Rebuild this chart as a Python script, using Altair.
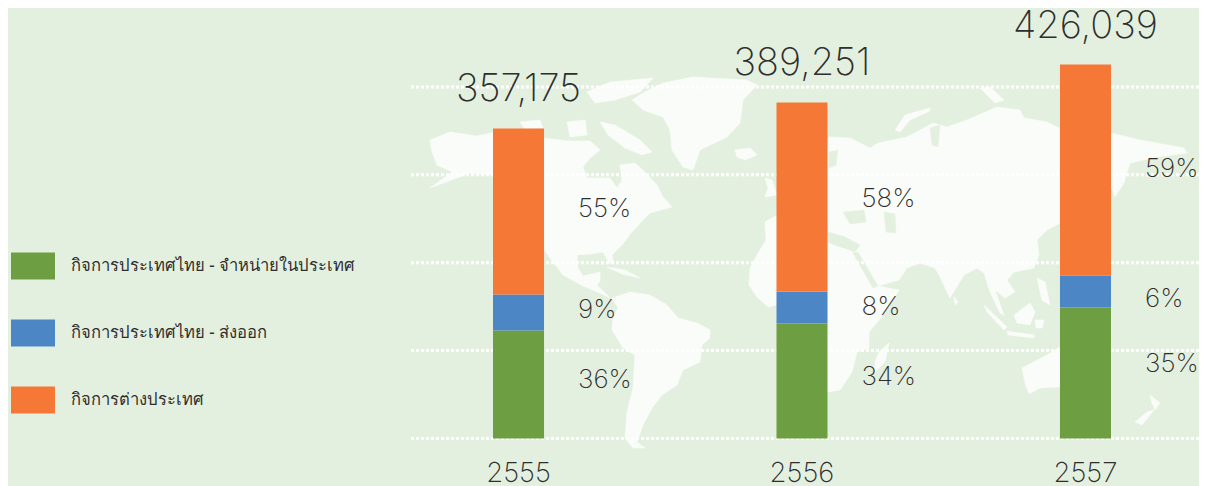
import altair as alt
import pandas as pd

# ---- chart values ----
years = ["2555", "2556", "2557"]
series = ["กิจการประเทศไทย - จำหน่ายในประเทศ", "กิจการประเทศไทย - ส่งออก", "กิจการต่างประเทศ"]
colors = ["#6d9f42", "#4d86c5", "#f67837"]
green_values = [122900, 130900, 149100]
blue_values = [41000, 36400, 36400]
orange_values = [188900, 215100, 240100]
totals = ["357,175", "389,251", "426,039"]
green_pct = ["36%", "34%", "35%"]
blue_pct = ["9%", "8%", "6%"]
orange_pct = ["55%", "58%", "59%"]
green_anchor = [66500, 69900, 84700]
blue_anchor = [146300, 149700, 158800]
orange_anchor = [261200, 272600, 306800]
grid_values = [0, 100000, 200000, 300000, 400000]

# ---- decorative world map outlines (picture units) ----
north_america = [[430,140],[450,132],[477,136],[505,130],[543,138],[567,141],[590,141],[600,150],[590,158],[583,167],[587,178],[610,178],[617,188],[622,180],[620,165],[635,163],[645,172],[657,185],[663,197],[672,207],[650,213],[643,220],[632,232],[622,245],[612,255],[614,263],[609,263],[603,252],[590,254],[577,255],[578,268],[583,276],[600,272],[600,281],[597,285],[610,298],[600,293],[583,286],[563,275],[550,258],[530,230],[510,190],[493,175],[470,173],[457,178],[430,188],[452,172],[437,165],[432,152]]
south_america = [[612,298],[630,292],[650,295],[667,305],[678,318],[697,323],[710,330],[710,338],[702,345],[700,362],[683,370],[677,385],[662,395],[652,408],[643,425],[637,442],[645,448],[633,448],[625,438],[627,412],[633,388],[635,355],[623,348],[612,330],[613,318],[618,308]]
greenland = [[643,93],[663,83],[693,77],[747,80],[757,85],[743,100],[740,123],[727,137],[700,150],[693,170],[683,167],[672,150],[670,130],[663,117],[643,110],[632,100]]
afro_eurasia = [[777,215],[765,222],[766,240],[757,255],[750,268],[749,285],[757,297],[768,307],[777,305],[800,310],[810,392],[828,392],[840,390],[852,372],[857,352],[869,348],[869,332],[885,313],[899,290],[878,286],[899,280],[907,268],[920,263],[935,268],[939,275],[950,298],[955,290],[964,275],[977,268],[984,273],[990,292],[1000,313],[1004,315],[995,290],[1005,298],[1015,292],[1007,280],[1014,272],[1034,268],[1039,255],[1037,240],[1047,230],[1060,223],[1070,210],[1111,187],[1115,197],[1124,183],[1130,163],[1157,157],[1187,153],[1184,148],[1140,140],[1111,133],[1059,128],[1047,122],[1024,118],[1020,110],[997,107],[967,120],[947,127],[933,123],[907,137],[878,143],[870,148],[850,138],[829,137],[815,150],[800,170],[790,195]]
australia = [[1022,368],[1047,355],[1060,347],[1100,347],[1100,387],[1060,387],[1040,388],[1029,394],[1025,383]]
baffin = [[600,122],[615,125],[640,140],[652,152],[642,155],[625,148],[608,135]]
ellesmere = [[587,92],[610,82],[653,78],[640,92],[615,100],[595,103]]
victoria = [[567,122],[585,120],[587,135],[570,137]]
banks = [[520,122],[540,120],[543,128],[525,129]]
iceland = [[735,150],[750,148],[757,155],[745,160],[737,157]]
uk = [[765,178],[772,180],[777,195],[765,197],[768,188]]
madagascar = [[889,343],[885,362],[875,372],[875,362],[879,352]]
novaya = [[895,130],[905,115],[930,108],[930,111],[910,120],[900,132]]
severnaya = [[980,88],[990,87],[1004,100],[995,103]]
sri_lanka = [[954,297],[958,302],[955,305]]
sumatra = [[984,305],[1007,327],[1004,330],[987,312]]
java = [[1007,331],[1034,335],[1034,338],[1008,335]]
borneo = [[1014,315],[1030,303],[1035,312],[1030,325],[1017,323]]
sulawesi = [[1035,320],[1044,320],[1042,328],[1036,328]]
philippines = [[1037,278],[1045,282],[1050,305],[1042,300]]
cuba = [[607,267],[625,270],[640,278],[622,274]]
north_island = [[1150,395],[1160,403],[1155,410],[1152,403]]
south_island = [[1154,410],[1142,425],[1135,422],[1147,412]]
land_shapes = [north_america, south_america, greenland, afro_eurasia, australia, baffin, ellesmere,
               victoria, banks, iceland, uk, madagascar, novaya, severnaya, sri_lanka, sumatra,
               java, borneo, sulawesi, philippines, cuba, north_island, south_island]

baltic = [[829,152],[838,150],[836,165],[829,168]]
mediterranean = [[828,232],[845,237],[860,245],[855,252],[835,245],[828,242]]
black_sea = [[843,212],[864,210],[866,222],[850,224]]
caspian = [[884,212],[895,214],[896,233],[886,232]]
red_sea = [[853,253],[858,252],[878,286],[873,288]]
ob_gulf = [[930,128],[940,125],[938,147],[932,145]]
water_shapes = [baltic, mediterranean, black_sea, caspian, red_sea, ob_gulf]


def features(shapes):
    return [{"type": "Feature", "properties": {},
             "geometry": {"type": "Polygon", "coordinates": [s + [s[0]]]}} for s in shapes]


BG = "#e4f0df"
TEXT = "#2e2e2e"
NUM_FONT = "Inter"

land = alt.Chart(alt.Data(values=features(land_shapes))).mark_geoshape(
    fill="#fafcf9", stroke="#fafcf9", strokeWidth=0.5
).project(type="identity", scale=1, translate=[-8, -8])
water = alt.Chart(alt.Data(values=features(water_shapes))).mark_geoshape(
    fill=BG, stroke=BG, strokeWidth=0.5
).project(type="identity", scale=1, translate=[-8, -8])

y_scale = alt.Scale(domain=[0, 489900], range=[430.5, 0])
x_scale = alt.Scale(domain=years, range=[485, 1103], paddingInner=0.82, paddingOuter=0)
x_enc = alt.X("year:N", scale=x_scale, axis=None)

rows = []
for i, yr in enumerate(years):
    for j, (name, vals, pct, anc) in enumerate(zip(
            series,
            [green_values, blue_values, orange_values],
            [green_pct, blue_pct, orange_pct],
            [green_anchor, blue_anchor, orange_anchor])):
        rows.append({"year": yr, "series": name, "order": j, "value": vals[i],
                     "pct": pct[i], "anchor": anc[i]})
df = pd.DataFrame(rows)
totals_df = pd.DataFrame({
    "year": years,
    "label": totals,
    "top": [a + b + c for a, b, c in zip(green_values, blue_values, orange_values)],
    "base": [0, 0, 0],
})

grid = alt.Chart(pd.DataFrame({"v": grid_values})).mark_rule(
    color="#ffffff", strokeWidth=3, strokeDash=[3, 2]
).encode(x=alt.value(403), x2=alt.value(1191), y=alt.Y("v:Q", scale=y_scale, axis=None))

bars = alt.Chart(df).mark_bar(width=alt.RelativeBandSize(band=1)).encode(
    x=x_enc,
    y=alt.Y("value:Q", stack="zero", scale=y_scale, axis=None),
    color=alt.Color(
        "series:N",
        scale=alt.Scale(domain=series, range=colors),
        sort=series,
        legend=alt.Legend(
            title=None, orient="none", legendX=3, legendY=236,
            symbolType="M-1,-0.614H1V0.614H-1Z", symbolSize=1936, symbolStrokeWidth=0,
            symbolOpacity=1, labelFont="Noto Sans", labelFontSize=16.6, labelFontWeight=500,
            labelColor=TEXT, labelOffset=16, rowPadding=31, labelLimit=320,
        ),
    ),
    order=alt.Order("order:Q"),
)

pct_text = alt.Chart(df).mark_text(
    align="left", baseline="middle", dx=59.5, font=NUM_FONT, fontWeight=200, fontSize=26, color=TEXT
).encode(x=x_enc, y=alt.Y("anchor:Q", scale=y_scale, axis=None), text="pct:N")

total_text = alt.Chart(totals_df).mark_text(
    align="center", baseline="alphabetic", dy=-27, font=NUM_FONT, fontWeight=200, fontSize=38, color=TEXT
).encode(x=x_enc, y=alt.Y("top:Q", scale=y_scale, axis=None), text="label:N")

year_text = alt.Chart(totals_df).mark_text(
    align="center", baseline="alphabetic", dy=43, font=NUM_FONT, fontWeight=200, fontSize=27.5, color=TEXT
).encode(x=x_enc, y=alt.Y("base:Q", scale=y_scale, axis=None), text="year:N")

chart = alt.layer(land, water, grid, bars, pct_text, total_text, year_text).properties(
    width=1191, height=478, background=BG, padding=0,
    autosize=alt.AutoSizeParams(type="none"),
).configure_view(stroke=None)

chart.save("out.html", embed_options={"renderer": "svg", "actions": False})
